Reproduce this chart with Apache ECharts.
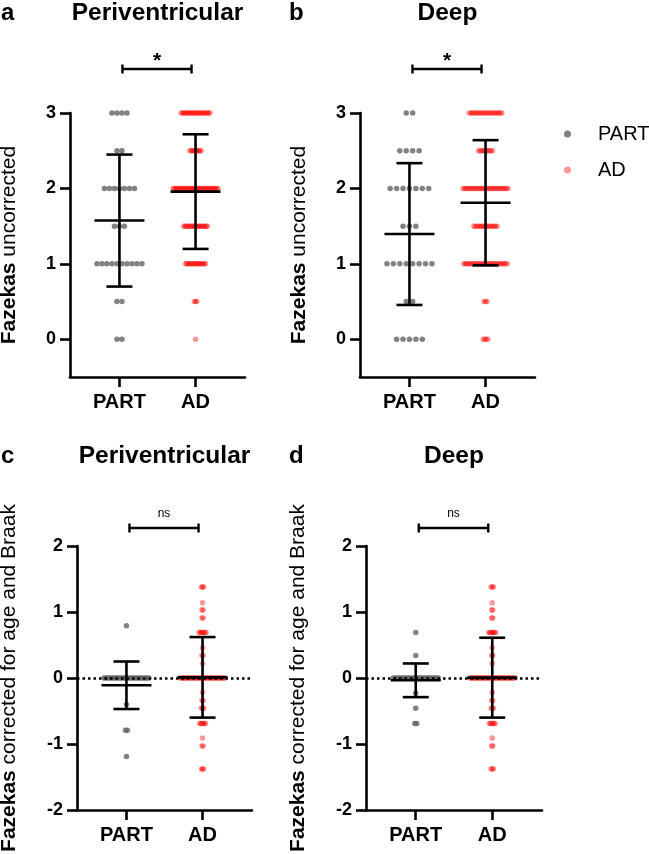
<!DOCTYPE html>
<html lang="en">
<head>
    <meta charset="UTF-8">
    <title>Fazekas scores - PART vs AD</title>
    <script src="https://cdn.jsdelivr.net/npm/echarts@6/dist/echarts.min.js"></script>
    <style>
        body { margin: 0; background: #ffffff; }
        #chart { width: 649px; height: 854px; }
    </style>
</head>
<body>
    <div id="chart"></div>
    <script>
        // groups on the x axis (PART = 1, AD = 2)
        const groupNames = ['PART', 'AD'];

        // uncorrected Fazekas scores: level -> number of cases
        const uncorrectedLevels = [0, 0.5, 1, 1.5, 2, 2.5, 3];
        const periPartCounts = [2, 2, 10, 3, 7, 2, 4];
        const periAdCounts = [1, 3, 17, 20, 37, 10, 24];
        const deepPartCounts = [5, 2, 8, 3, 7, 4, 2];
        const deepAdCounts = [4, 3, 29, 16, 30, 10, 22];

        // corrected for age and Braak
        const periPartCorrLevels = [0.79, 0, -0.40, -0.79, -1.19];
        const periPartCorrCounts = [1, 25, 1, 2, 1];
        const deepPartCorrLevels = [0.69, 0.34, 0, -0.23, -0.46, -0.69];
        const deepPartCorrCounts = [1, 1, 24, 1, 1, 2];
        const adCorrLevels = [1.38, 1.14, 1.03, 0.91, 0.69, 0.46, 0.34, 0.22, 0, -0.22, -0.34, -0.46, -0.69, -0.91, -1.03, -1.38];
        const periAdCorrCounts = [3, 1, 2, 2, 7, 1, 2, 1, 40, 1, 2, 3, 6, 1, 2, 3];
        const deepAdCorrCounts = [3, 1, 2, 2, 7, 1, 2, 1, 40, 1, 2, 3, 6, 1, 2, 3];

        // mean and SD per group [PART, AD]
        const periUncMean = [1.574, 1.958];
        const periUncSd = [0.875, 0.76];
        const deepUncMean = [1.395, 1.81];
        const deepUncSd = [0.94, 0.83];
        const periCorrMean = [-0.11, 0.01];
        const periCorrSd = [0.36, 0.61];
        const deepCorrMean = [-0.035, 0.005];
        const deepCorrSd = [0.255, 0.605];

        // significance labels per panel
        const sigLabels = ['*', '*', 'ns', 'ns'];

        const yTicksUncorrected = [0, 1, 2, 3];

        const FONT = '"Liberation Sans", Arial, Helvetica, sans-serif';
        const PART_COLOR = '#636363';
        const AD_COLOR = 'rgba(255, 0, 0, 0.5)';

        const panels = [
            { letter: 'a', title: 'Periventricular', left: 70, top: 113, width: 175, yMin: -0.5, yMax: 3,
              yName: '{b|Fazekas} uncorrected', nameGap: 50,
              part: [uncorrectedLevels, periPartCounts], ad: [uncorrectedLevels, periAdCounts],
              mean: periUncMean, sd: periUncSd, sigGap: 44, zero: false },
            { letter: 'b', title: 'Deep', left: 360, top: 113, width: 175, yMin: -0.5, yMax: 3,
              yName: '{b|Fazekas} uncorrected', nameGap: 50,
              part: [uncorrectedLevels, deepPartCounts], ad: [uncorrectedLevels, deepAdCounts],
              mean: deepUncMean, sd: deepUncSd, sigGap: 44, zero: false },
            { letter: 'c', title: 'Periventricular', left: 77, top: 546, width: 175, yMin: -2, yMax: 2,
              yName: '{b|Fazekas} corrected for age and Braak', nameGap: 57,
              part: [periPartCorrLevels, periPartCorrCounts], ad: [adCorrLevels, periAdCorrCounts],
              mean: periCorrMean, sd: periCorrSd, sigGap: 18, zero: true },
            { letter: 'd', title: 'Deep', left: 366, top: 546, width: 176, yMin: -2, yMax: 2,
              yName: '{b|Fazekas} corrected for age and Braak', nameGap: 57,
              part: [deepPartCorrLevels, deepPartCorrCounts], ad: [adCorrLevels, deepAdCorrCounts],
              mean: deepCorrMean, sd: deepCorrSd, sigGap: 18, zero: true }
        ];
        const GRID_H = 264;

        // spread equal values sideways like a dot plot
        function dotData(levels, counts, xPos) {
            const maxCount = Math.max.apply(null, counts);
            const step = maxCount > 1 ? Math.min(7, 45 / (maxCount - 1)) : 0;
            const out = [];
            levels.forEach(function (lv, k) {
                const n = counts[k];
                for (let i = 0; i < n; i++) {
                    out.push({ value: [xPos, lv], symbolOffset: [(i - (n - 1) / 2) * step, 0] });
                }
            });
            return out;
        }

        function errorBarItem(params, api) {
            const x = api.value(0), m = api.value(1), sd = api.value(2);
            const c = api.coord([x, m]);
            const top = api.coord([x, m + sd]);
            const bot = api.coord([x, m - sd]);
            const st = { stroke: '#000', lineWidth: 2.6 };
            return {
                type: 'group',
                children: [
                    { type: 'line', shape: { x1: c[0], y1: top[1], x2: c[0], y2: bot[1] }, style: st },
                    { type: 'line', shape: { x1: c[0] - 25, y1: c[1], x2: c[0] + 25, y2: c[1] }, style: st },
                    { type: 'line', shape: { x1: c[0] - 13, y1: top[1], x2: c[0] + 13, y2: top[1] }, style: st },
                    { type: 'line', shape: { x1: c[0] - 13, y1: bot[1], x2: c[0] + 13, y2: bot[1] }, style: st }
                ]
            };
        }

        function sigItemFactory(label, gap) {
            return function (params, api) {
                const x1 = api.coord([api.value(0), 0])[0] + 3;
                const x2 = api.coord([api.value(1), 0])[0] - 4;
                const y = params.coordSys.y - gap;
                const st = { stroke: '#000', lineWidth: 2.4 };
                const isStar = label === '*';
                return {
                    type: 'group',
                    children: [
                        { type: 'line', shape: { x1: x1, y1: y, x2: x2, y2: y }, style: st },
                        { type: 'line', shape: { x1: x1, y1: y - 4.5, x2: x1, y2: y + 4.5 }, style: st },
                        { type: 'line', shape: { x1: x2, y1: y - 4.5, x2: x2, y2: y + 4.5 }, style: st },
                        { type: 'text', x: (x1 + x2) / 2, y: isStar ? y - 8 : y - 14,
                          style: { text: label, fill: '#000', textAlign: 'center', textVerticalAlign: 'middle',
                                   font: (isStar ? 'bold 21px ' : '12px ') + FONT } }
                    ]
                };
            };
        }

        const grids = [], xAxes = [], yAxes = [], series = [], texts = [];

        panels.forEach(function (p, i) {
            grids.push({ left: p.left, top: p.top, width: p.width, height: GRID_H, show: false, outerBoundsMode: 'none' });

            xAxes.push({
                type: 'value', gridIndex: i, min: 0.35, max: 2.65,
                axisLine: { onZero: false, lineStyle: { color: '#000', width: 2.6 } },
                axisTick: { customValues: [1, 2], length: 10, lineStyle: { color: '#000', width: 2.6 } },
                axisLabel: { customValues: [1, 2], margin: 15, color: '#000', fontSize: 20, fontWeight: 'bold', fontFamily: FONT,
                             formatter: function (v) { return groupNames[Math.round(v) - 1]; } },
                splitLine: { show: false }
            });

            const yAxis = {
                type: 'value', gridIndex: i, min: p.yMin, max: p.yMax,
                name: p.yName, nameLocation: 'middle', nameRotate: 90, nameGap: p.nameGap,
                nameTextStyle: { color: '#000', fontSize: 21, fontFamily: FONT,
                                 rich: { b: { fontWeight: 'bold', fontSize: 21, color: '#000', fontFamily: FONT } } },
                axisLine: { onZero: false, lineStyle: { color: '#000', width: 2.6 } },
                axisTick: { length: 10, lineStyle: { color: '#000', width: 2.6 } },
                axisLabel: { margin: 14, color: '#000', fontSize: 18, fontWeight: 'bold', fontFamily: FONT },
                splitLine: { show: false }
            };
            if (p.zero) {
                yAxis.interval = 1;
            } else {
                yAxis.axisTick.customValues = yTicksUncorrected;
                yAxis.axisLabel.customValues = yTicksUncorrected;
            }
            yAxes.push(yAxis);

            if (p.zero) {
                series.push({
                    type: 'line', xAxisIndex: i, yAxisIndex: i, data: [], z: 1, silent: true,
                    markLine: {
                        silent: true, symbol: ['none', 'none'], label: { show: false },
                        lineStyle: { color: '#000', type: [2.5, 3], width: 2.6 },
                        data: [{ yAxis: 0 }]
                    }
                });
            }

            series.push({
                name: 'PART', type: 'scatter', xAxisIndex: i, yAxisIndex: i, z: 2,
                symbol: 'circle', symbolSize: 5.5,
                itemStyle: { color: PART_COLOR },
                data: dotData(p.part[0], p.part[1], 1)
            });
            series.push({
                name: 'AD', type: 'scatter', xAxisIndex: i, yAxisIndex: i, z: 2,
                symbol: 'circle', symbolSize: 5.5,
                itemStyle: { color: AD_COLOR },
                data: dotData(p.ad[0], p.ad[1], 2)
            });
            series.push({
                type: 'custom', xAxisIndex: i, yAxisIndex: i, z: 5, silent: true,
                renderItem: errorBarItem,
                encode: { x: 0, y: 1 },
                data: [[1, p.mean[0], p.sd[0]], [2, p.mean[1], p.sd[1]]]
            });
            series.push({
                type: 'custom', xAxisIndex: i, yAxisIndex: i, z: 5, silent: true, clip: false,
                renderItem: sigItemFactory(sigLabels[i], p.sigGap),
                encode: { x: [0, 1], y: 2 },
                data: [[1, 2, 0]]
            });

            const ty = p.top < 300 ? 13 : 456;
            texts.push({ type: 'text', x: p.left < 200 ? 1 : 289, y: ty,
                         style: { text: p.letter, font: 'bold 24px ' + FONT, fill: '#000', textVerticalAlign: 'middle' } });
            texts.push({ type: 'text', x: p.left + p.width / 2, y: ty,
                         style: { text: p.title, font: 'bold 24.5px ' + FONT, fill: '#000', textAlign: 'center', textVerticalAlign: 'middle' } });
        });

        const option = {
            backgroundColor: '#ffffff',
            animation: false,
            textStyle: { fontFamily: FONT },
            grid: grids,
            xAxis: xAxes,
            yAxis: yAxes,
            legend: {
                data: ['PART', 'AD'],
                orient: 'vertical',
                left: 559, top: 119,
                icon: 'circle',
                itemWidth: 7, itemHeight: 7, itemGap: 16,
                textStyle: { color: '#000', fontSize: 20, fontFamily: FONT, padding: [0, 0, 0, 22] }
            },
            graphic: texts,
            series: series
        };

        const chart = echarts.init(document.getElementById('chart'));
        chart.setOption(option);
    </script>
</body>
</html>
